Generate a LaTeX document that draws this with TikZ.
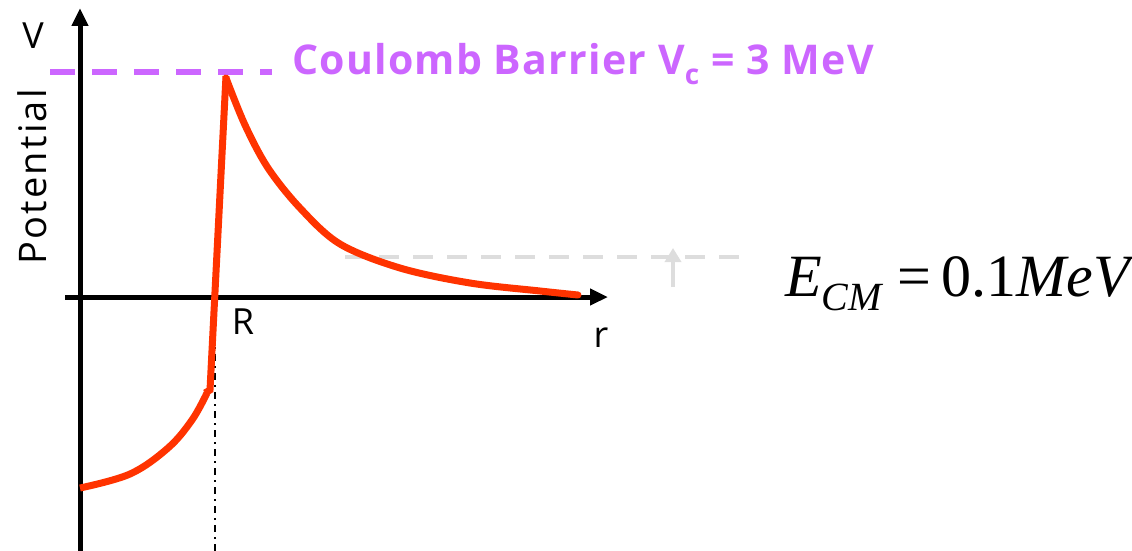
\documentclass[tikz,border=0pt]{standalone}
\usepackage{fontspec}
\setmainfont{Open Sans}
\newfontfamily\tnr{Liberation Serif}
\usetikzlibrary{arrows.meta}
\definecolor{barrier}{HTML}{CC66FF}
\definecolor{pot}{HTML}{FF3300}
\definecolor{lgray}{HTML}{DDDDDD}
\tikzset{
  axis/.style={line width=5pt,-{Triangle[length=18pt,width=16pt]}},
  potline/.style={pot,line width=7pt,line join=miter},
  lbl/.style={font=\fontsize{36}{40}\selectfont,inner sep=0pt},
}
\begin{document}
\begin{tikzpicture}[x=1pt,y=-1pt]
\useasboundingbox (0,0) rectangle (1132,551);
% axes
\coordinate (yb) at (80,551);
\coordinate (yt) at (80,8);
\coordinate (xl) at (65,297);
\coordinate (xr) at (608,297);
\draw[axis] (yb) -- (yt);
\draw[axis] (xl) -- (xr);
% R marker
\coordinate (rt) at (215,297);
\coordinate (rb) at (215,551);
\draw[line width=2pt,dash pattern=on 7pt off 5pt on 2pt off 5pt] (rt) -- (rb);
% barrier dashed line
\coordinate (bl) at (50,72);
\coordinate (br) at (272,72);
\draw[barrier,line width=6pt,dash pattern=on 25pt off 17pt] (bl) -- (br);
\node[anchor=west,barrier,inner sep=0pt,font=\fontsize{41}{44}\selectfont\bfseries\addfontfeature{LetterSpace=3}] (blab) at (292,64) {Coulomb Barrier V\raisebox{-10pt}{\fontsize{28}{30}\selectfont c} = 3 MeV};
% energy level dashed
\coordinate (el) at (345,257);
\coordinate (er) at (752,257);
\draw[lgray,line width=3.5pt,dash pattern=on 20pt off 14pt] (el) -- (er);
\coordinate (ab) at (673,287);
\coordinate (at) at (673,248);
\draw[lgray,line width=4pt,-{Triangle[length=14pt,width=16pt]}] (ab) -- (at);
% potential curve
\draw[potline] plot[smooth,tension=0.6] coordinates {(80,488) (130,474) (168,448) (192,420) (207,393)};
\draw[potline] (205,393) -- (210,390) -- (226,76);
\draw[potline,line cap=round] plot[smooth,tension=0.55] coordinates {(226,78) (245,125) (268,168) (300,208) (340,244) (400,268) (470,283) (540,291) (578,295)};
% labels
\node[lbl] (V) at (33,36) {V};
\node[lbl,rotate=90,font=\fontsize{38}{40}\selectfont\addfontfeature{LetterSpace=6}] (P) at (32,177) {Potential};
\node[lbl] (R) at (243,322) {R};
\node[lbl] (r) at (601,338) {r};
\node[anchor=west,inner sep=0pt,font=\tnr\fontsize{60}{64}\selectfont] (E) at (785,284) {\textit{E}\raisebox{-14pt}{\fontsize{40}{44}\selectfont\textit{CM}}\hspace{14pt}=\hspace{10pt}0.1\textit{MeV}};
\end{tikzpicture}
\end{document}
